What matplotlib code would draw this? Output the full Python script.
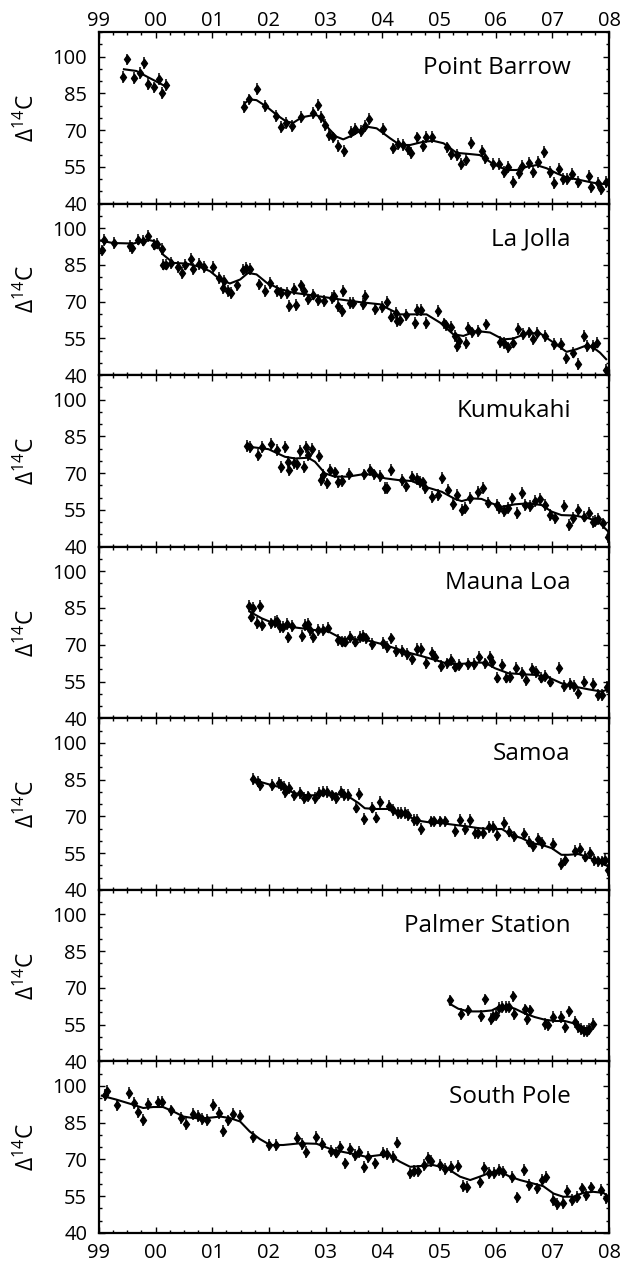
import numpy as np
import matplotlib
matplotlib.use("Agg")
import matplotlib.pyplot as plt
from matplotlib.ticker import MultipleLocator

plt.rcParams['font.family'] = ['Open Sans', 'DejaVu Sans']
plt.rcParams['mathtext.fontset'] = 'custom'
plt.rcParams['mathtext.rm'] = 'Open Sans'

nan = float('nan')

# ---- Point Barrow ----
barrow_t = [1999.43, 1999.49, 1999.61, 1999.72, 1999.79, 1999.87, 1999.97, 2000.06, 2000.11, 2000.18,
            2001.56, 2001.65, 2001.78, 2001.93, 2002.12, 2002.21, 2002.30, 2002.40, 2002.56, 2002.78,
            2002.87, 2002.92, 2002.99, 2003.06, 2003.13, 2003.21, 2003.33, 2003.45, 2003.52, 2003.62,
            2003.69, 2003.77, 2004.02, 2004.19, 2004.28, 2004.37, 2004.46, 2004.50, 2004.62, 2004.71,
            2004.77, 2004.87, 2005.14, 2005.22, 2005.31, 2005.39, 2005.47, 2005.56, 2005.75, 2005.82,
            2005.96, 2006.06, 2006.15, 2006.22, 2006.31, 2006.41, 2006.47, 2006.58, 2006.66, 2006.74,
            2006.85, 2006.96, 2007.03, 2007.12, 2007.19, 2007.25, 2007.34, 2007.45, 2007.64, 2007.69,
            2007.80, 2007.85, 2007.95]
barrow_v = [91.5, 98.8, 91.1, 93.4, 97.5, 88.8, 87.4, 90.7, 85.2, 88.4,
            79.5, 82.5, 86.6, 79.8, 75.7, 71.1, 73.0, 71.6, 75.2, 77.1,
            80.2, 75.4, 72.0, 68.0, 67.0, 63.5, 61.6, 69.3, 70.3, 69.7,
            71.6, 74.4, 70.3, 62.5, 64.3, 63.9, 62.1, 60.7, 67.0, 63.5,
            67.3, 67.3, 62.9, 60.2, 59.8, 56.1, 57.8, 64.6, 61.6, 58.4,
            56.1, 56.1, 53.0, 54.8, 48.9, 52.6, 55.3, 56.7, 53.0, 57.1,
            61.1, 53.0, 48.5, 54.0, 49.9, 49.9, 52.0, 48.9, 51.2, 46.6,
            48.5, 45.8, 48.9]
barrow_fit_t = [1999.44, 1999.66, 1999.87, 2000.16, nan,
                2001.58, 2001.66, 2001.78, 2001.96, 2002.14, 2002.31, 2002.43, 2002.58, 2002.78, 2002.84,
                2002.93, 2003.05, 2003.19, 2003.31, 2003.49, 2003.72, 2003.90, 2004.14, 2004.31, 2004.49,
                2004.72, 2004.90, 2005.08, 2005.31, 2005.55, 2005.72, 2005.96, 2006.19, 2006.37, 2006.55,
                2006.72, 2006.90, 2007.08, 2007.25, 2007.49, 2007.72, 2007.90, 2007.99]
barrow_fit_v = [94.8, 94.1, 91.5, 88.0, nan,
                81.1, 82.5, 82.2, 79.5, 76.1, 73.4, 73.0, 75.2, 76.1, 76.1,
                74.8, 70.7, 67.3, 66.2, 68.0, 71.4, 70.7, 66.6, 63.9, 63.9,
                65.2, 65.6, 64.6, 60.7, 60.2, 59.8, 56.1, 53.7, 53.7, 55.0,
                55.7, 54.4, 52.3, 50.7, 49.6, 48.5, 48.0, 48.2]

# ---- La Jolla ----
jolla_t = [1999.05, 1999.09, 1999.27, 1999.55, 1999.59, 1999.68, 1999.78, 1999.87, 1999.97, 2000.02,
           2000.11, 2000.13, 2000.19, 2000.27, 2000.39, 2000.46, 2000.52, 2000.62, 2000.66, 2000.77,
           2000.85, 2001.02, 2001.11, 2001.18, 2001.21, 2001.27, 2001.33, 2001.43, 2001.55, 2001.59,
           2001.66, 2001.83, 2001.93, 2002.02, 2002.14, 2002.22, 2002.32, 2002.36, 2002.44, 2002.48,
           2002.56, 2002.61, 2002.69, 2002.78, 2002.87, 2002.97, 2003.11, 2003.15, 2003.21, 2003.28,
           2003.31, 2003.43, 2003.49, 2003.65, 2003.69, 2003.87, 2003.99, 2004.09, 2004.16, 2004.24,
           2004.26, 2004.31, 2004.42, 2004.58, 2004.61, 2004.69, 2004.77, 2004.98, 2005.08, 2005.12,
           2005.22, 2005.28, 2005.32, 2005.36, 2005.47, 2005.52, 2005.58, 2005.69, 2005.83, 2006.08,
           2006.15, 2006.22, 2006.31, 2006.40, 2006.48, 2006.58, 2006.66, 2006.73, 2006.87, 2007.03,
           2007.16, 2007.24, 2007.36, 2007.45, 2007.56, 2007.62, 2007.71, 2007.79, 2007.95]
jolla_v = [90.9, 95.0, 93.9, 92.6, 91.9, 95.3, 94.9, 96.9, 93.3, 93.7,
           91.5, 85.1, 85.1, 85.8, 84.2, 81.7, 85.1, 87.4, 83.4, 85.5,
           84.2, 84.2, 79.7, 75.6, 78.3, 74.3, 73.6, 76.6, 83.1, 83.8,
           83.4, 77.0, 74.3, 77.7, 74.3, 73.6, 73.6, 68.2, 75.2, 68.5,
           76.6, 74.3, 70.9, 72.9, 70.6, 70.2, 71.6, 72.2, 68.2, 66.1,
           74.3, 69.3, 69.3, 68.9, 72.2, 67.1, 67.9, 69.8, 63.9, 65.5,
           62.1, 62.5, 64.4, 61.4, 66.6, 66.6, 61.4, 66.1, 61.1, 60.3,
           59.8, 56.0, 51.9, 53.9, 53.0, 59.4, 57.4, 58.0, 60.7, 53.5,
           53.0, 51.3, 53.3, 58.7, 56.7, 57.4, 54.9, 57.1, 56.0, 52.6,
           52.6, 46.8, 49.2, 44.5, 56.0, 51.9, 51.9, 53.3, 42.2]
jolla_fit_t = [1999.02, 1999.25, 1999.61, 1999.84, 1999.99, 2000.13, 2000.31, 2000.55, 2000.78, 2000.96,
               2001.14, 2001.31, 2001.49, 2001.63, 2001.78, 2001.96, 2002.19, 2002.43, 2002.66, 2002.87,
               2003.25, 2003.60, 2003.96, 2004.13, 2004.31, 2004.55, 2004.78, 2005.02, 2005.25, 2005.43,
               2005.66, 2005.90, 2006.13, 2006.31, 2006.55, 2006.78, 2007.02, 2007.25, 2007.43, 2007.61,
               2007.72, 2007.84, 2007.95]
jolla_fit_v = [94.9, 93.9, 93.7, 95.3, 94.6, 89.2, 85.8, 85.5, 84.2, 82.4,
               79.0, 77.4, 79.0, 81.7, 81.1, 77.7, 75.2, 73.6, 72.9, 72.2,
               70.9, 69.8, 68.9, 66.8, 64.8, 64.8, 64.8, 61.4, 56.7, 56.0,
               58.0, 57.4, 54.6, 54.9, 57.1, 57.1, 53.3, 49.5, 50.6, 52.2,
               51.3, 49.2, 46.5]

# ---- Kumukahi ----
kumu_t = [2001.61, 2001.66, 2001.81, 2001.87, 2002.03, 2002.14, 2002.21, 2002.28, 2002.33, 2002.36,
          2002.45, 2002.49, 2002.54, 2002.61, 2002.66, 2002.69, 2002.76, 2002.88, 2002.92, 2002.96,
          2003.02, 2003.08, 2003.16, 2003.21, 2003.28, 2003.42, 2003.68, 2003.78, 2003.86, 2003.96,
          2004.04, 2004.09, 2004.16, 2004.34, 2004.41, 2004.52, 2004.61, 2004.66, 2004.71, 2004.76,
          2004.87, 2004.98, 2005.05, 2005.15, 2005.24, 2005.31, 2005.40, 2005.46, 2005.55, 2005.68,
          2005.77, 2005.86, 2006.02, 2006.06, 2006.14, 2006.21, 2006.29, 2006.37, 2006.46, 2006.52,
          2006.61, 2006.69, 2006.78, 2006.87, 2006.96, 2007.05, 2007.21, 2007.29, 2007.37, 2007.46,
          2007.55, 2007.64, 2007.71, 2007.75, 2007.81, 2007.90, 2007.98]
kumu_v = [81.2, 80.8, 77.4, 80.8, 81.9, 79.4, 72.4, 80.8, 74.7, 71.3,
          74.0, 73.6, 79.0, 72.6, 80.8, 77.4, 79.8, 77.0, 67.2, 69.2,
          65.8, 71.3, 70.3, 66.2, 66.8, 69.6, 69.5, 71.3, 69.5, 69.0,
          64.1, 64.1, 71.3, 67.2, 64.9, 68.6, 67.5, 66.5, 66.2, 63.8,
          60.4, 61.1, 67.9, 63.1, 57.4, 61.1, 55.0, 55.9, 60.0, 62.4,
          63.8, 58.0, 57.0, 55.7, 54.6, 55.7, 59.7, 53.6, 61.8, 57.0,
          56.6, 58.6, 59.5, 57.0, 52.9, 51.6, 56.6, 48.9, 51.6, 55.0,
          52.3, 53.6, 50.2, 50.5, 51.3, 49.5, 44.1]
kumu_fit_t = [2001.64, 2001.99, 2002.28, 2002.46, 2002.69, 2002.81, 2002.99, 2003.16, 2003.40, 2003.64,
              2003.81, 2004.05, 2004.28, 2004.52, 2004.75, 2005.05, 2005.28, 2005.40, 2005.58, 2005.75,
              2005.93, 2006.11, 2006.34, 2006.58, 2006.81, 2006.99, 2007.16, 2007.40, 2007.64, 2007.81,
              2007.99]
kumu_fit_v = [80.8, 79.8, 76.7, 76.0, 76.3, 74.7, 69.9, 68.6, 68.6, 69.5,
              69.5, 67.9, 67.2, 66.8, 64.5, 62.4, 59.5, 58.6, 59.7, 59.5,
              57.7, 56.3, 57.3, 57.7, 57.0, 54.3, 52.9, 52.7, 51.6, 50.2,
              46.1]

# ---- Mauna Loa ----
mlo_t = [2001.64, 2001.68, 2001.72, 2001.78, 2001.84, 2001.87, 2002.04, 2002.11, 2002.15, 2002.19,
         2002.25, 2002.31, 2002.34, 2002.40, 2002.59, 2002.64, 2002.68, 2002.72, 2002.78, 2002.87,
         2002.96, 2003.04, 2003.21, 2003.28, 2003.34, 2003.43, 2003.52, 2003.61, 2003.66, 2003.72,
         2003.82, 2004.02, 2004.09, 2004.16, 2004.24, 2004.34, 2004.43, 2004.52, 2004.62, 2004.69,
         2004.77, 2004.87, 2004.93, 2005.04, 2005.14, 2005.21, 2005.28, 2005.36, 2005.52, 2005.61,
         2005.71, 2005.81, 2005.90, 2005.94, 2006.03, 2006.11, 2006.18, 2006.25, 2006.36, 2006.46,
         2006.54, 2006.64, 2006.72, 2006.80, 2006.87, 2006.96, 2007.12, 2007.21, 2007.31, 2007.38,
         2007.46, 2007.55, 2007.71, 2007.80, 2007.88, 2007.96]
mlo_v = [85.8, 81.5, 84.9, 79.0, 85.8, 78.1, 78.7, 79.4, 79.8, 77.4,
         77.4, 78.5, 73.0, 77.7, 73.6, 78.1, 78.5, 76.0, 73.3, 76.0,
         76.0, 77.0, 72.0, 71.3, 71.3, 73.3, 71.3, 73.3, 73.6, 72.6,
         70.3, 70.6, 69.2, 72.6, 67.6, 67.5, 66.2, 64.2, 68.2, 68.2,
         62.7, 66.8, 65.2, 61.4, 62.4, 63.8, 61.1, 61.8, 62.2, 62.2,
         65.2, 62.4, 65.2, 63.1, 56.6, 61.8, 56.6, 57.0, 60.4, 58.4,
         55.7, 60.0, 59.0, 56.6, 57.4, 55.0, 60.4, 53.2, 53.9, 53.2,
         50.2, 55.0, 53.9, 49.5, 49.5, 52.9]
mlo_fit_t = [2001.66, 2001.87, 2002.11, 2002.34, 2002.58, 2002.81, 2003.05, 2003.28, 2003.52, 2003.75,
             2003.99, 2004.22, 2004.46, 2004.69, 2004.93, 2005.16, 2005.40, 2005.64, 2005.81, 2005.99,
             2006.22, 2006.46, 2006.69, 2006.93, 2007.16, 2007.40, 2007.64, 2007.87, 2007.99]
mlo_fit_v = [83.5, 80.8, 78.5, 77.4, 76.7, 76.0, 75.4, 72.6, 72.2, 71.7,
             70.3, 68.6, 66.8, 65.4, 63.8, 62.2, 62.2, 62.7, 62.7, 60.4,
             58.4, 58.0, 57.7, 56.7, 54.3, 52.9, 51.8, 50.9, 51.8]

# ---- Samoa ----
samoa_t = [2001.72, 2001.81, 2001.84, 2002.06, 2002.18, 2002.22, 2002.27, 2002.29, 2002.36, 2002.45,
           2002.55, 2002.62, 2002.69, 2002.81, 2002.88, 2002.96, 2003.02, 2003.12, 2003.18, 2003.27,
           2003.33, 2003.40, 2003.54, 2003.58, 2003.67, 2003.81, 2003.89, 2003.96, 2004.11, 2004.18,
           2004.28, 2004.33, 2004.40, 2004.46, 2004.56, 2004.61, 2004.69, 2004.86, 2004.92, 2005.02,
           2005.11, 2005.28, 2005.37, 2005.46, 2005.55, 2005.64, 2005.69, 2005.77, 2005.89, 2005.96,
           2006.02, 2006.15, 2006.24, 2006.33, 2006.50, 2006.58, 2006.66, 2006.74, 2006.82, 2007.01,
           2007.16, 2007.22, 2007.40, 2007.49, 2007.58, 2007.66, 2007.74, 2007.81, 2007.87, 2007.93,
           2007.99]
samoa_v = [85.3, 84.2, 82.8, 82.8, 83.5, 82.8, 82.1, 79.8, 81.5, 78.5,
           79.4, 77.4, 78.1, 77.4, 79.4, 80.1, 79.8, 78.5, 77.4, 79.8,
           78.7, 78.7, 73.6, 79.0, 69.0, 73.6, 69.5, 75.8, 74.4, 72.6,
           71.3, 71.3, 71.3, 70.6, 68.6, 68.6, 64.8, 67.9, 67.9, 67.9,
           67.9, 64.1, 68.6, 64.8, 68.6, 63.1, 63.1, 63.1, 65.8, 65.8,
           62.4, 67.2, 63.8, 61.8, 62.7, 59.7, 57.7, 60.8, 59.0, 58.6,
           50.5, 52.3, 55.9, 56.6, 53.6, 55.0, 52.3, 51.6, 51.6, 52.3,
           48.2]
samoa_fit_t = [2001.72, 2001.99, 2002.22, 2002.46, 2002.69, 2002.87, 2003.05, 2003.22, 2003.40, 2003.58,
               2003.69, 2003.87, 2004.11, 2004.28, 2004.46, 2004.64, 2004.81, 2005.05, 2005.28, 2005.52,
               2005.69, 2005.87, 2006.11, 2006.28, 2006.46, 2006.64, 2006.81, 2006.99, 2007.16, 2007.28,
               2007.46, 2007.64, 2007.81, 2007.99]
samoa_fit_v = [84.9, 83.1, 81.7, 79.4, 78.5, 78.7, 79.4, 79.0, 78.1, 75.4,
               73.3, 73.0, 73.0, 71.3, 69.9, 68.2, 67.6, 67.2, 66.5, 65.8,
               65.2, 64.9, 64.8, 62.4, 61.1, 59.0, 58.4, 57.0, 54.3, 54.3,
               54.6, 53.2, 51.6, 49.5]

# ---- Palmer Station ----
palmer_t = [2005.19, 2005.38, 2005.51, 2005.74, 2005.81, 2005.91, 2005.96, 2006.01, 2006.06, 2006.12,
            2006.18, 2006.24, 2006.30, 2006.33, 2006.52, 2006.55, 2006.61, 2006.87, 2006.93, 2007.02,
            2007.16, 2007.23, 2007.29, 2007.40, 2007.45, 2007.51, 2007.55, 2007.61, 2007.64, 2007.71]
palmer_v = [64.9, 59.5, 60.8, 58.4, 65.3, 57.4, 58.4, 59.0, 61.9, 62.2,
            62.2, 62.2, 66.5, 59.2, 61.2, 57.4, 60.8, 55.4, 54.7, 58.1,
            58.1, 54.0, 60.4, 56.1, 54.0, 53.3, 52.3, 52.3, 53.3, 55.4]
palmer_fit_t = [2005.19, 2005.34, 2005.52, 2005.75, 2005.93, 2006.05, 2006.19, 2006.34, 2006.52, 2006.69,
                2006.87, 2007.05, 2007.22, 2007.40, 2007.52, 2007.64]
palmer_fit_v = [63.5, 61.5, 60.4, 60.4, 60.8, 62.2, 62.6, 61.5, 59.5, 58.1,
                57.0, 56.5, 56.5, 55.4, 54.0, 53.3]

# ---- South Pole ----
spo_t = [1999.11, 1999.15, 1999.31, 1999.53, 1999.62, 1999.69, 1999.78, 1999.87, 2000.05, 2000.12,
         2000.27, 2000.45, 2000.53, 2000.66, 2000.74, 2000.82, 2000.91, 2001.02, 2001.12, 2001.19,
         2001.28, 2001.36, 2001.49, 2001.71, 2002.00, 2002.12, 2002.49, 2002.58, 2002.66, 2002.83,
         2002.93, 2003.09, 2003.19, 2003.25, 2003.34, 2003.43, 2003.51, 2003.59, 2003.68, 2003.75,
         2003.87, 2004.02, 2004.09, 2004.18, 2004.25, 2004.48, 2004.55, 2004.63, 2004.73, 2004.81,
         2004.85, 2005.02, 2005.11, 2005.21, 2005.34, 2005.43, 2005.50, 2005.72, 2005.80, 2005.89,
         2005.97, 2006.05, 2006.13, 2006.29, 2006.38, 2006.50, 2006.59, 2006.73, 2006.81, 2006.89,
         2007.02, 2007.09, 2007.18, 2007.26, 2007.34, 2007.43, 2007.52, 2007.59, 2007.69, 2007.86,
         2007.95]
spo_v = [96.4, 97.8, 92.3, 97.1, 93.0, 89.3, 86.2, 92.6, 93.3, 93.3,
         90.0, 86.9, 84.5, 88.5, 87.8, 86.5, 86.2, 92.3, 88.9, 81.7,
         85.9, 88.5, 87.8, 79.1, 75.9, 75.9, 78.7, 76.4, 73.2, 79.1,
         76.4, 73.6, 72.8, 75.0, 68.4, 74.2, 71.8, 73.2, 66.8, 70.9,
         68.4, 72.8, 72.3, 70.9, 76.9, 64.3, 65.4, 65.4, 67.7, 70.5,
         69.5, 67.7, 66.0, 66.8, 67.3, 59.1, 58.9, 60.9, 66.4, 64.6,
         64.6, 65.7, 65.0, 63.0, 54.5, 65.7, 59.5, 58.2, 61.6, 63.0,
         53.4, 51.8, 52.3, 57.2, 53.4, 54.8, 58.2, 55.5, 58.6, 57.5,
         54.1]
spo_fit_t = [1999.05, 1999.31, 1999.61, 1999.78, 1999.96, 2000.13, 2000.31, 2000.49, 2000.66, 2000.90,
             2001.14, 2001.31, 2001.49, 2001.66, 2001.84, 2002.02, 2002.25, 2002.55, 2002.84, 2003.13,
             2003.43, 2003.72, 2003.96, 2004.13, 2004.31, 2004.49, 2004.66, 2004.90, 2005.14, 2005.37,
             2005.55, 2005.72, 2005.90, 2006.08, 2006.25, 2006.43, 2006.66, 2006.84, 2007.02, 2007.19,
             2007.37, 2007.55, 2007.72, 2007.90, 2007.99]
spo_fit_v = [96.0, 94.4, 92.3, 91.0, 91.4, 91.4, 89.6, 87.5, 86.9, 86.9,
             87.5, 86.9, 85.5, 81.4, 78.3, 75.9, 75.9, 76.6, 76.4, 73.9,
             72.5, 71.1, 71.8, 71.8, 69.1, 67.0, 67.3, 67.7, 66.4, 63.0,
             61.6, 63.0, 64.6, 65.0, 63.0, 61.6, 60.2, 59.1, 56.1, 54.8,
             54.8, 56.4, 56.8, 56.4, 54.8]

stations = ["Point Barrow", "La Jolla", "Kumukahi", "Mauna Loa", "Samoa", "Palmer Station", "South Pole"]
series = [(barrow_t, barrow_v, barrow_fit_t, barrow_fit_v),
          (jolla_t, jolla_v, jolla_fit_t, jolla_fit_v),
          (kumu_t, kumu_v, kumu_fit_t, kumu_fit_v),
          (mlo_t, mlo_v, mlo_fit_t, mlo_fit_v),
          (samoa_t, samoa_v, samoa_fit_t, samoa_fit_v),
          (palmer_t, palmer_v, palmer_fit_t, palmer_fit_v),
          (spo_t, spo_v, spo_fit_t, spo_fit_v)]
err = 2.4

year_ticks = [1999, 2000, 2001, 2002, 2003, 2004, 2005, 2006, 2007, 2008]
year_labels = ['99', '00', '01', '02', '03', '04', '05', '06', '07', '08']
y_ticks = [40, 55, 70, 85, 100]

# diamond a bit wider than matplotlib's thin diamond
diamond = [(0, 1), (0.72, 0), (0, -1), (-0.72, 0), (0, 1)]

fig, axes = plt.subplots(7, 1, figsize=(6.21, 12.65), dpi=100, sharex=True)
fig.subplots_adjust(left=0.1594, right=0.9807, top=0.9747, bottom=0.0253, hspace=0)

for i, (ax, name, (t, v, ft, fv)) in enumerate(zip(axes, stations, series)):
    ax.errorbar(t, v, yerr=err, fmt='none', ecolor='black', elinewidth=1.1,
                capsize=0, zorder=3)
    ax.plot(t, v, linestyle='none', marker=diamond, color='black', ms=6, zorder=4)
    ax.plot(ft, fv, color='black', lw=1.5, zorder=2)
    ax.set_xlim(1999, 2008)
    ax.set_ylim(40, 110)
    ax.set_yticks(y_ticks)
    ax.yaxis.set_minor_locator(MultipleLocator(5))
    ax.set_xticks(year_ticks)
    ax.xaxis.set_minor_locator(MultipleLocator(0.25))
    ax.tick_params(which='both', direction='in', top=True, right=True, width=1.0)
    ax.tick_params(which='major', length=4.5)
    ax.tick_params(which='minor', length=2.2)
    ax.tick_params(axis='y', labelsize=14.5, pad=8.5)
    ax.tick_params(axis='x', labelsize=14.5)
    for s in ax.spines.values():
        s.set_linewidth(1.6)
    ax.set_ylabel('Δ$^{\\mathregular{14}}$C', fontsize=16.5, labelpad=9)
    ax.text(0.925, 0.79, name, transform=ax.transAxes, ha='right', va='center',
            fontsize=17.5)
    if i == 0:
        ax.tick_params(axis='x', labeltop=True, labelbottom=False, pad=0.5)
        ax.set_xticklabels(year_labels)
    elif i == len(axes) - 1:
        ax.tick_params(axis='x', labeltop=False, labelbottom=True, pad=7)
        ax.set_xticklabels(year_labels)
    else:
        ax.tick_params(axis='x', labeltop=False, labelbottom=False)

fig.savefig('out.png', dpi=100)
